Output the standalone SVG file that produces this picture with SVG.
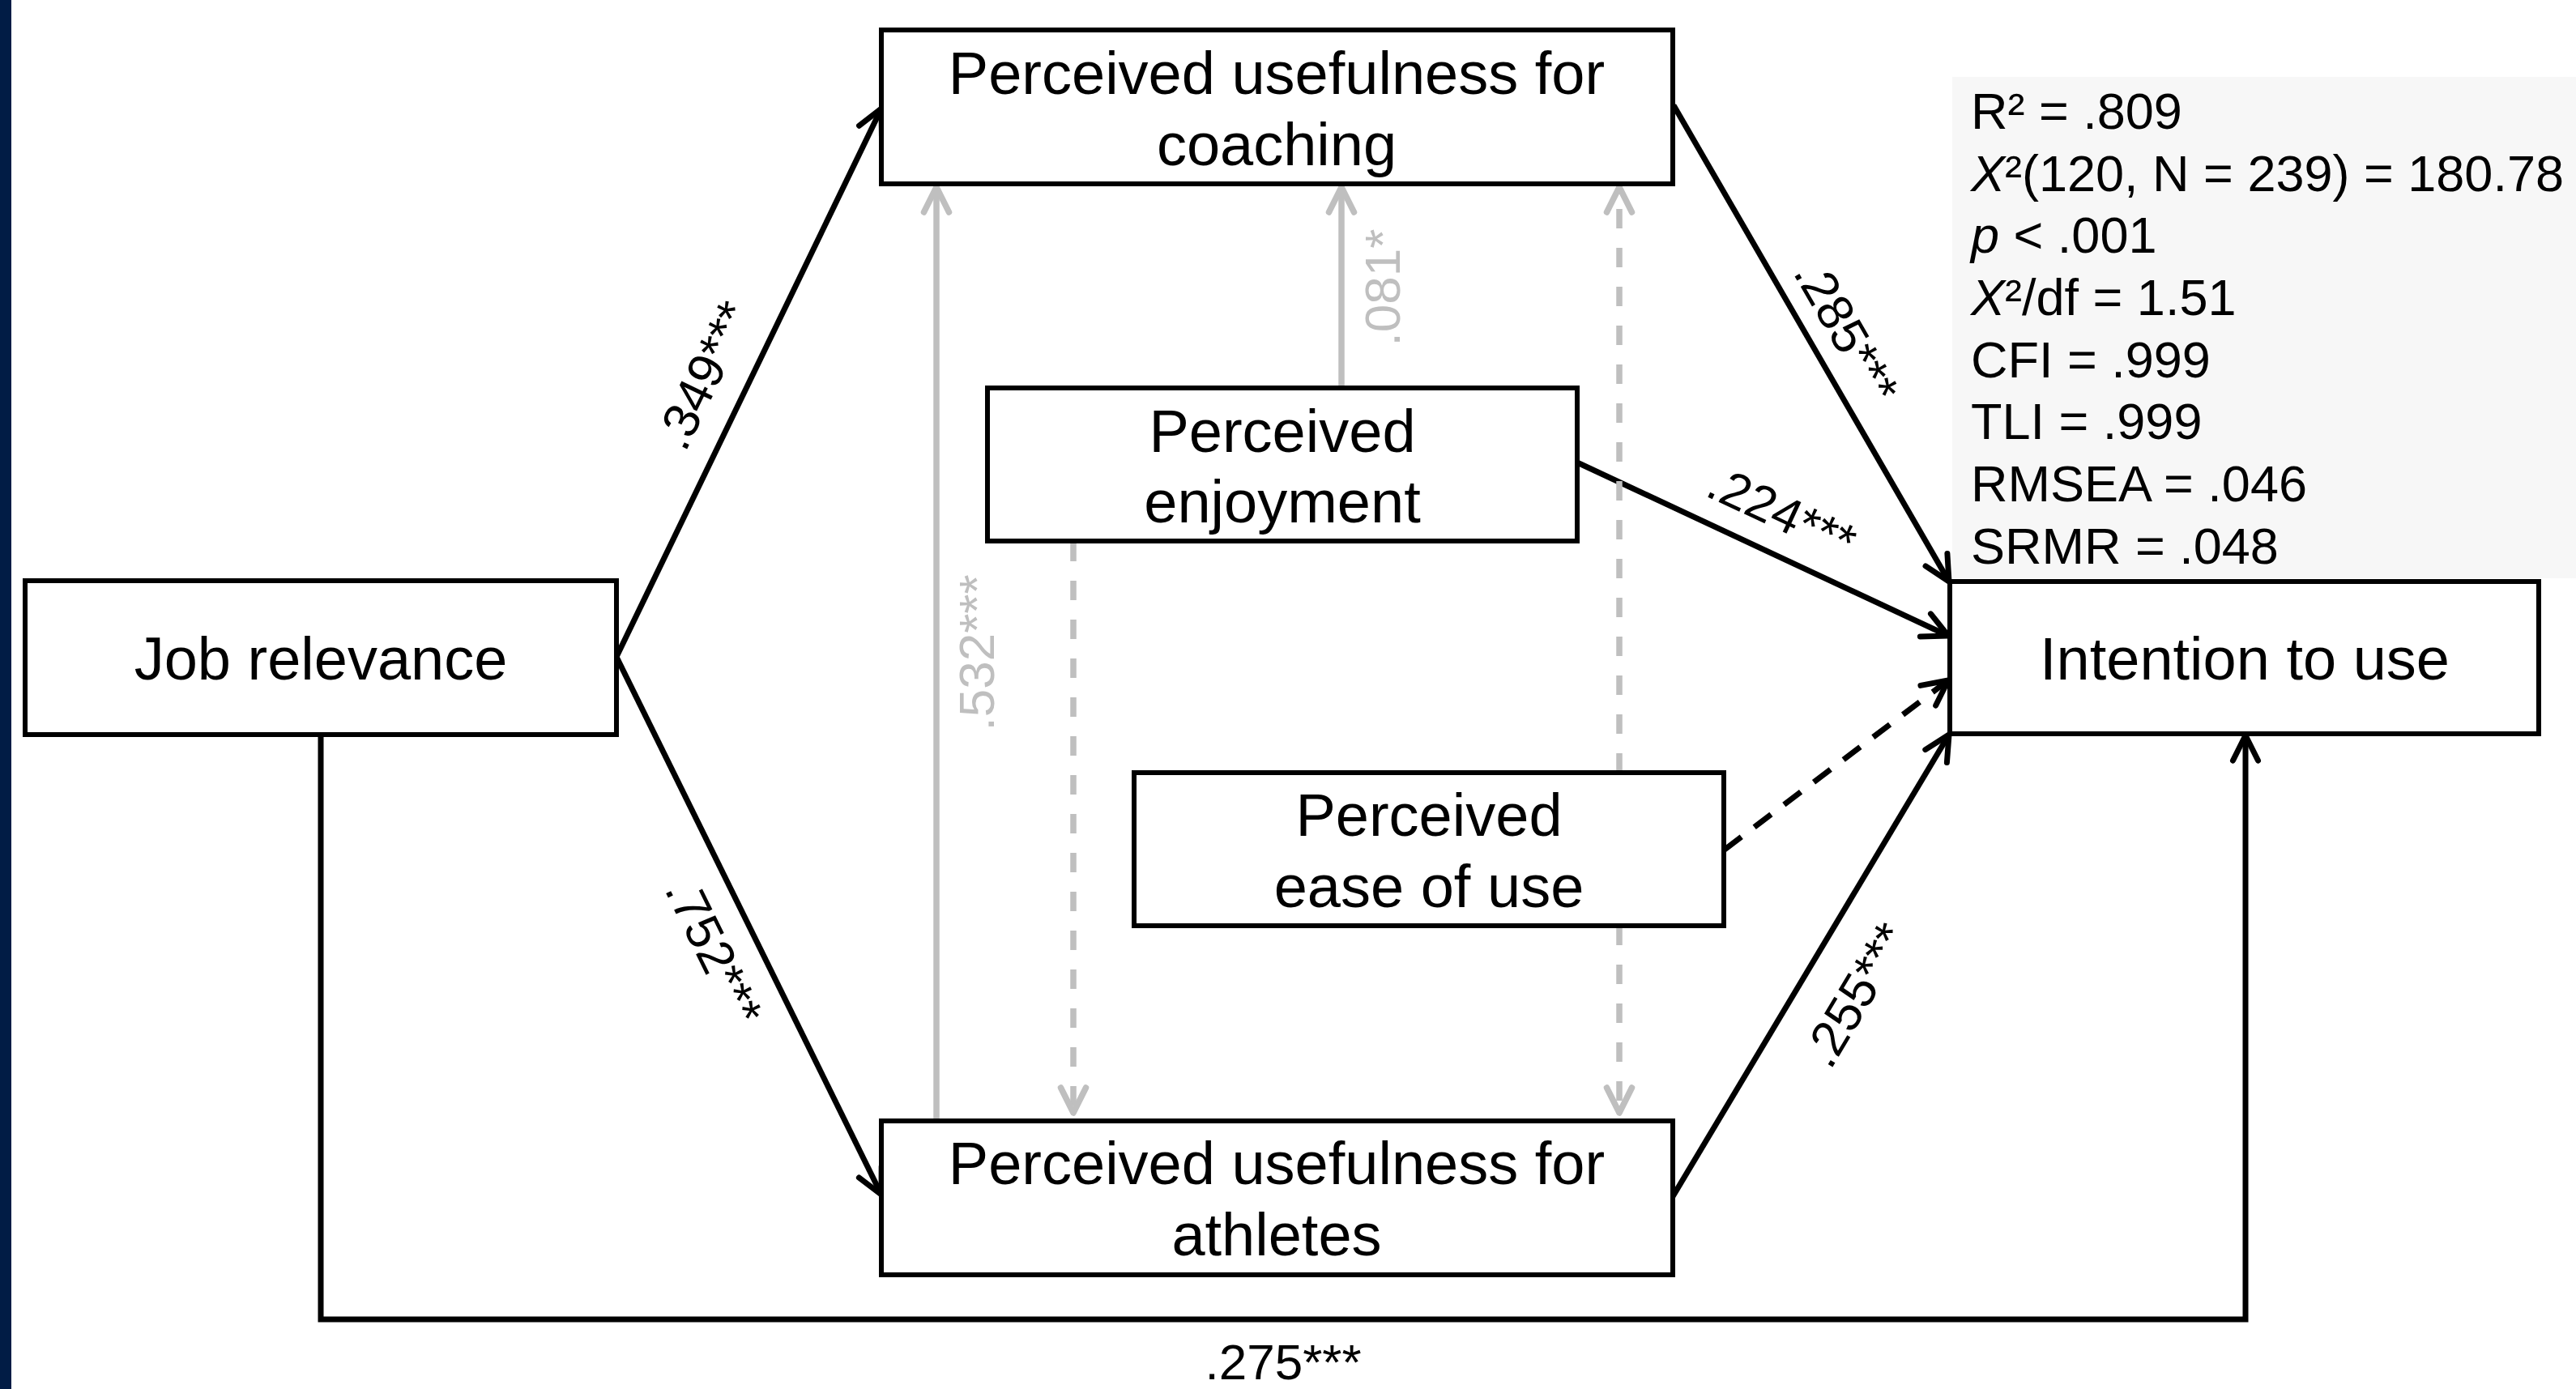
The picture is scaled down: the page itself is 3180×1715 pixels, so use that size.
<svg xmlns="http://www.w3.org/2000/svg" width="3180" height="1715" viewBox="0 0 3180 1715">
<style>
.box{fill:#fff;stroke:#000;stroke-width:6}
.nt{font-family:"Liberation Sans",Arial,sans-serif;font-size:74px;fill:#000;text-anchor:middle}
.st{font-family:"Liberation Sans",Arial,sans-serif;font-size:63px;fill:#000}
.lb{font-family:"Liberation Sans",Arial,sans-serif;font-size:62px;fill:#000;text-anchor:middle}
.lg{font-family:"Liberation Sans",Arial,sans-serif;font-size:62px;fill:#BFBFBF;text-anchor:middle}
.k{fill:none;stroke:#000;stroke-width:7}
.kd{fill:none;stroke:#000;stroke-width:7;stroke-dasharray:26 20}
.g{fill:none;stroke:#BFBFBF;stroke-width:7.5}
.gd{fill:none;stroke:#BFBFBF;stroke-width:7.5;stroke-dasharray:24 24}
</style>
<defs>
<marker id="ab" markerUnits="userSpaceOnUse" viewBox="-40 -20 44 40" markerWidth="44" markerHeight="40" refX="0" refY="0" orient="auto" overflow="visible">
<path d="M-31,-15.5 L0,0 L-31,15.5" fill="none" stroke="#000" stroke-width="7" stroke-linecap="round" stroke-linejoin="round"/>
</marker>
<marker id="ag" markerUnits="userSpaceOnUse" viewBox="-40 -20 44 40" markerWidth="44" markerHeight="40" refX="0" refY="0" orient="auto" overflow="visible">
<path d="M-31,-15.5 L0,0 L-31,15.5" fill="none" stroke="#BFBFBF" stroke-width="7.5" stroke-linecap="round" stroke-linejoin="round"/>
</marker>
</defs>
<rect x="0" y="0" width="3180" height="1715" fill="#fff"/>
<rect x="0" y="0" width="14" height="1715" fill="#011C45"/>
<g id="fit-stats">
<rect x="2410" y="95" width="770" height="619" fill="#F7F7F7"/>
<text class="st" x="2433" y="159">R² = .809</text>
<text class="st" x="2433" y="236"><tspan font-style="italic">X</tspan>²(120, N = 239) = 180.78</text>
<text class="st" x="2433" y="312"><tspan font-style="italic">p</tspan> &lt; .001</text>
<text class="st" x="2433" y="389"><tspan font-style="italic">X</tspan>²/df = 1.51</text>
<text class="st" x="2433" y="466">CFI = .999</text>
<text class="st" x="2433" y="542">TLI = .999</text>
<text class="st" x="2433" y="619">RMSEA = .046</text>
<text class="st" x="2433" y="696">SRMR = .048</text>
</g>
<g id="connectors">
<path class="k" d="M761,811 L1088,134" marker-end="url(#ab)"/>
<path class="k" d="M761,811 L1088,1475" marker-end="url(#ab)"/>
<path class="k" d="M2066,130 L2406,718" marker-end="url(#ab)"/>
<path class="k" d="M1947,571 L2405,785" marker-end="url(#ab)"/>
<path class="kd" d="M2129,1049 L2405,840" marker-end="url(#ab)"/>
<path class="k" d="M2064,1479 L2406,907" marker-end="url(#ab)"/>
<path class="k" d="M396,907 L396,1629 L2772,1629 L2772,908" marker-end="url(#ab)"/>
<path class="g" d="M1156,1384 L1156,231" marker-end="url(#ag)"/>
<path class="g" d="M1656,479 L1656,231" marker-end="url(#ag)"/>
<path class="gd" d="M1325,669 L1325,1374" marker-end="url(#ag)"/>
<path class="gd" d="M1999,954 L1999,231" marker-end="url(#ag)"/>
<path class="gd" d="M1999,1143 L1999,1374" marker-end="url(#ag)"/>
<g id="path-labels">
<text class="lb" transform="translate(868,463) rotate(-64.2)" x="0" y="22">.349***</text>
<text class="lb" transform="translate(882,1175) rotate(63.8)" x="0" y="22">.752***</text>
<text class="lb" transform="translate(2280,409) rotate(60)" x="0" y="22">.285***</text>
<text class="lb" transform="translate(2200,632) rotate(25)" x="0" y="22">.224***</text>
<text class="lb" transform="translate(2290,1228) rotate(-59.2)" x="0" y="22">.255***</text>
<text class="lg" transform="translate(1205,806) rotate(-90)" x="0" y="22">.532***</text>
<text class="lg" transform="translate(1706,355) rotate(-90)" x="0" y="22">.081*</text>
<text class="lb" x="1584" y="1703">.275***</text>
</g>
</g>
<g id="job-relevance">
<rect class="box" x="31" y="717" width="730" height="190"/>
<text class="nt" x="396" y="839">Job relevance</text>
</g>
<g id="pu-coaching">
<rect class="box" x="1088" y="37" width="977" height="190"/>
<text class="nt" x="1576" y="116">Perceived usefulness for</text>
<text class="nt" x="1576" y="204">coaching</text>
</g>
<g id="enjoyment">
<rect class="box" x="1219" y="479" width="728" height="189"/>
<text class="nt" x="1583" y="558">Perceived</text>
<text class="nt" x="1583" y="645">enjoyment</text>
</g>
<g id="ease-of-use">
<rect class="box" x="1400" y="954" width="728" height="189"/>
<text class="nt" x="1764" y="1032">Perceived</text>
<text class="nt" x="1764" y="1120">ease of use</text>
</g>
<g id="pu-athletes">
<rect class="box" x="1088" y="1384" width="977" height="190"/>
<text class="nt" x="1576" y="1462">Perceived usefulness for</text>
<text class="nt" x="1576" y="1550">athletes</text>
</g>
<g id="intention">
<rect class="box" x="2407" y="718" width="727" height="188"/>
<text class="nt" x="2771" y="839">Intention to use</text>
</g>
</svg>
